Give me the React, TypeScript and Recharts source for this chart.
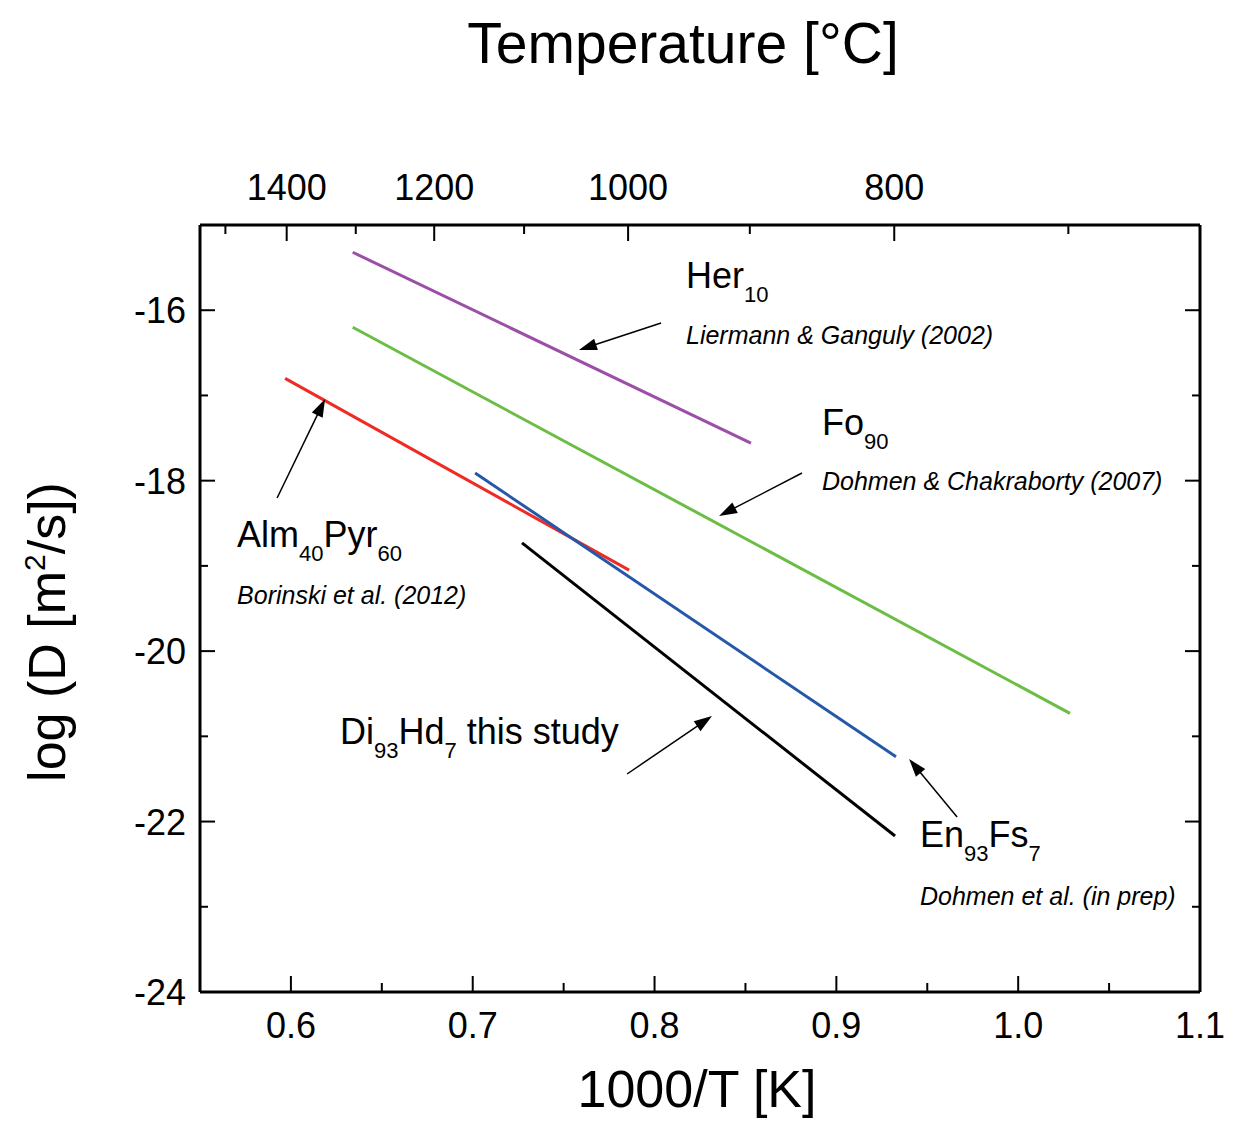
import React from 'react';
import { LineChart, Line, XAxis, YAxis, ReferenceDot, ReferenceLine } from 'recharts';

// ---- axis ticks ----
const xMajorTicks = [0.6, 0.7, 0.8, 0.9, 1.0, 1.1];
const xMajorLabels = ['0.6', '0.7', '0.8', '0.9', '1.0', '1.1'];
const xMinorTicks = [0.65, 0.75, 0.85, 0.95, 1.05];
const yMajorTicks = [-24, -22, -20, -18, -16];
const yMinorTicks = [-23, -21, -19, -17];
const topMajorTempC = [1400, 1200, 1000, 800];
const topMinorTempC = [1500, 1300, 1100, 900, 700];

// ---- series (x = 1000/T [K], y = log D) ----
const herX = [0.634, 0.853];
const herY = [-15.32, -17.56];
const foX = [0.634, 1.0285];
const foY = [-16.2, -20.73];
const almX = [0.5968, 0.786];
const almY = [-16.8, -19.05];
const enX = [0.7013, 0.9328];
const enY = [-17.91, -21.24];
const diX = [0.7271, 0.9323];
const diY = [-18.73, -22.17];

// ---- annotations ----
const labelNames = ['Her', 'Fo', 'Alm', 'Di', 'En'];
const labelX = [0.8173, 0.8921, 0.5704, 0.627, 0.946];
const labelY = [-15.74, -17.464, -18.778, -21.09, -22.299];
const citeText = ['Liermann & Ganguly (2002)', 'Dohmen & Chakraborty (2007)', 'Borinski et al. (2012)', '', 'Dohmen et al. (in prep)'];
const citeY = [-16.4, -18.11, -19.447, 0, -22.979];
const arrowFromX = [0.8036, 0.8811, 0.5924, 0.7849, 0.9664];
const arrowFromY = [-16.15, -17.91, -18.203, -21.442, -21.947];
const arrowToX = [0.7584, 0.8355, 0.6188, 0.8316, 0.94];
const arrowToY = [-16.467, -18.415, -17.042, -20.762, -21.266];

const colors = { her: '#9b4fa6', fo: '#6cbd45', alm: '#ee2b24', en: '#2458a8', di: '#000000' };
const FONT = '"Liberation Sans", Arial, Helvetica, sans-serif';

const toC = (t: number) => 1000 / (t + 273.15);
const topTicks = [...topMajorTempC, ...topMinorTempC].map(toC);
const mk = (xs: number[], ys: number[]) => xs.map((x, i) => ({ x, y: ys[i] }));

const W = 1225;
const H = 1133;

const BottomTick = (p: any) => {
  const v = p.payload.value;
  const mi = xMajorTicks.findIndex((t) => Math.abs(t - v) < 1e-6);
  if (mi < 0) return <line x1={p.x} x2={p.x} y1={p.y} y2={p.y - 9} stroke="#000" strokeWidth={2} />;
  return (
    <g>
      <line x1={p.x} x2={p.x} y1={p.y} y2={p.y - 16} stroke="#000" strokeWidth={2} />
      <text x={p.x} y={p.y + 46} textAnchor="middle" fontSize={36} fontFamily={FONT} fill="#000">{xMajorLabels[mi]}</text>
    </g>
  );
};

const TopTick = (p: any) => {
  const v = p.payload.value;
  const mi = topMajorTempC.findIndex((t) => Math.abs(toC(t) - v) < 1e-6);
  if (mi < 0) return <line x1={p.x} x2={p.x} y1={p.y} y2={p.y + 9} stroke="#000" strokeWidth={2} />;
  return (
    <g>
      <line x1={p.x} x2={p.x} y1={p.y} y2={p.y + 16} stroke="#000" strokeWidth={2} />
      <text x={p.x} y={p.y - 25} textAnchor="middle" fontSize={36} fontFamily={FONT} fill="#000">{String(topMajorTempC[mi])}</text>
    </g>
  );
};

const LeftTick = (p: any) => {
  const v = p.payload.value;
  const major = yMajorTicks.includes(v);
  if (!major) return <line x1={p.x} x2={p.x + 8} y1={p.y} y2={p.y} stroke="#000" strokeWidth={2} />;
  return (
    <g>
      <line x1={p.x} x2={p.x + 15} y1={p.y} y2={p.y} stroke="#000" strokeWidth={2} />
      <text x={p.x - 14} y={p.y + 13} textAnchor="end" fontSize={36} fontFamily={FONT} fill="#000">{String(v)}</text>
    </g>
  );
};

const RightTick = (p: any) => {
  const v = p.payload.value;
  const major = yMajorTicks.includes(v);
  return <line x1={p.x} x2={p.x - (major ? 15 : 8)} y1={p.y} y2={p.y} stroke="#000" strokeWidth={2} />;
};

const S = 14; // subscript shift

const nameContent = (i: number) => {
  switch (labelNames[i]) {
    case 'Her':
      return (<><tspan>Her</tspan><tspan dy={S} fontSize={22}>10</tspan></>);
    case 'Fo':
      return (<><tspan>Fo</tspan><tspan dy={S} fontSize={22}>90</tspan></>);
    case 'Alm':
      return (<><tspan>Alm</tspan><tspan dy={S} fontSize={22}>40</tspan><tspan dy={-S}>Pyr</tspan><tspan dy={S} fontSize={22}>60</tspan></>);
    case 'Di':
      return (<><tspan>Di</tspan><tspan dy={S} fontSize={22}>93</tspan><tspan dy={-S}>Hd</tspan><tspan dy={S} fontSize={22}>7</tspan><tspan dy={-S}> this study</tspan></>);
    default:
      return (<><tspan>En</tspan><tspan dy={S} fontSize={22}>93</tspan><tspan dy={-S}>Fs</tspan><tspan dy={S} fontSize={22}>7</tspan></>);
  }
};

const Arrow = (p: any) => {
  const { x1, y1, x2, y2 } = p;
  const dx = x2 - x1;
  const dy = y2 - y1;
  const len = Math.sqrt(dx * dx + dy * dy) || 1;
  const ux = dx / len;
  const uy = dy / len;
  const hl = 18;
  const hw = 6;
  const bx = x2 - ux * hl;
  const by = y2 - uy * hl;
  const pts = `${x2},${y2} ${bx - uy * hw},${by + ux * hw} ${bx + uy * hw},${by - ux * hw}`;
  return (
    <g>
      <line x1={x1} y1={y1} x2={bx + ux * 2} y2={by + uy * 2} stroke="#000" strokeWidth={1.5} />
      <polygon points={pts} fill="#000" />
    </g>
  );
};

export default function App() {
  return (
    <div style={{ position: 'relative', width: W, height: H }}>
      <LineChart width={W} height={H} margin={{ top: 216, left: 191, right: 32, bottom: 148 }}>
        <XAxis
          xAxisId="b"
          type="number"
          dataKey="x"
          domain={[0.55, 1.1]}
          ticks={[...xMajorTicks, ...xMinorTicks]}
          interval={0}
          allowDataOverflow
          height={1}
          tickSize={0}
          tickMargin={0}
          tickLine={false}
          axisLine={{ stroke: '#000', strokeWidth: 3 }}
          tick={<BottomTick />}
        />
        <XAxis
          xAxisId="t"
          orientation="top"
          type="number"
          dataKey="x"
          domain={[0.55, 1.1]}
          ticks={topTicks}
          interval={0}
          allowDataOverflow
          height={1}
          tickSize={0}
          tickMargin={0}
          tickLine={false}
          axisLine={{ stroke: '#000', strokeWidth: 3 }}
          tick={<TopTick />}
        />
        <YAxis
          yAxisId="l"
          type="number"
          domain={[-24, -15]}
          ticks={[...yMajorTicks, ...yMinorTicks]}
          interval={0}
          allowDataOverflow
          width={1}
          tickSize={0}
          tickMargin={0}
          tickLine={false}
          axisLine={{ stroke: '#000', strokeWidth: 3 }}
          tick={<LeftTick />}
        />
        <YAxis
          yAxisId="r"
          orientation="right"
          type="number"
          domain={[-24, -15]}
          ticks={[...yMajorTicks, ...yMinorTicks]}
          interval={0}
          allowDataOverflow
          width={1}
          tickSize={0}
          tickMargin={0}
          tickLine={false}
          axisLine={{ stroke: '#000', strokeWidth: 3 }}
          tick={<RightTick />}
        />
        <Line xAxisId="b" yAxisId="l" data={mk(herX, herY)} dataKey="y" stroke={colors.her} strokeWidth={3} dot={false} isAnimationActive={false} />
        <Line xAxisId="b" yAxisId="l" data={mk(foX, foY)} dataKey="y" stroke={colors.fo} strokeWidth={3} dot={false} isAnimationActive={false} />
        <Line xAxisId="b" yAxisId="l" data={mk(almX, almY)} dataKey="y" stroke={colors.alm} strokeWidth={3} dot={false} isAnimationActive={false} />
        <Line xAxisId="b" yAxisId="l" data={mk(enX, enY)} dataKey="y" stroke={colors.en} strokeWidth={3} dot={false} isAnimationActive={false} />
        <Line xAxisId="b" yAxisId="l" data={mk(diX, diY)} dataKey="y" stroke={colors.di} strokeWidth={3} dot={false} isAnimationActive={false} />
        {arrowFromX.map((_, i) => (
          <ReferenceLine
            key={'a' + i}
            xAxisId="b"
            yAxisId="l"
            segment={[{ x: arrowFromX[i], y: arrowFromY[i] }, { x: arrowToX[i], y: arrowToY[i] }]}
            shape={(p: any) => <Arrow {...p} />}
          />
        ))}
        {labelNames.map((_, i) => (
          <ReferenceDot
            key={'n' + i}
            xAxisId="b"
            yAxisId="l"
            x={labelX[i]}
            y={labelY[i]}
            r={0}
            shape={(p: any) => (
              <text x={p.cx} y={p.cy} fontSize={36} fontFamily={FONT} fill="#000">{nameContent(i)}</text>
            )}
          />
        ))}
        {labelNames.map((_, i) =>
          citeText[i] ? (
            <ReferenceDot
              key={'c' + i}
              xAxisId="b"
              yAxisId="l"
              x={labelX[i]}
              y={citeY[i]}
              r={0}
              shape={(p: any) => (
                <text x={p.cx} y={p.cy} fontSize={25} fontStyle="italic" fontFamily={FONT} fill="#000">{citeText[i]}</text>
              )}
            />
          ) : null
        )}
      </LineChart>
      <svg width={W} height={H} style={{ position: 'absolute', left: 0, top: 0, pointerEvents: 'none' }}>
        <text x={675} y={55} textAnchor="middle" fontSize={57} fontFamily={FONT} fill="#000">Temperature [°C]</text>
        <text x={689} y={1099} textAnchor="middle" fontSize={52} fontFamily={FONT} fill="#000">1000/T [K]</text>
        <text transform="translate(57,624) rotate(-90)" textAnchor="middle" fontSize={52} fontFamily={FONT} fill="#000">
          <tspan>log (D [m</tspan>
          <tspan dy={-20} fontSize={30}>2</tspan>
          <tspan dy={20}>/s])</tspan>
        </text>
      </svg>
    </div>
  );
}
